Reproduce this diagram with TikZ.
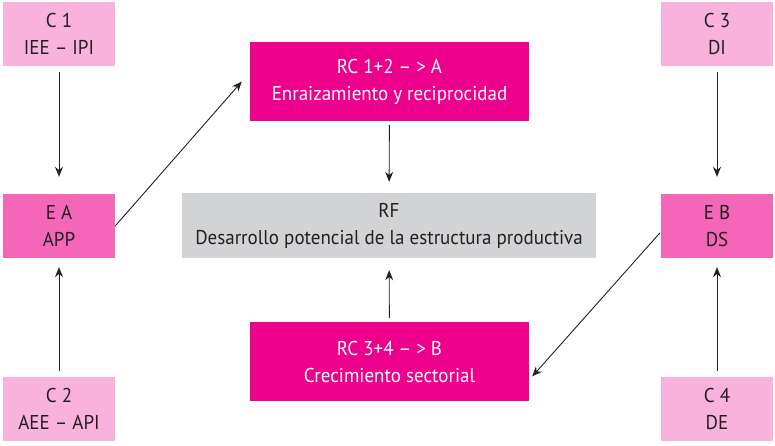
\documentclass[tikz,border=0pt]{standalone}
\usepackage{fontspec}
\setmainfont{PT Sans}[FakeStretch=0.95]
\usetikzlibrary{arrows.meta,calc}
\definecolor{lpink}{HTML}{F8B2DC}
\definecolor{mpink}{HTML}{F366B8}
\definecolor{magen}{HTML}{EC008C}
\definecolor{rfgray}{HTML}{D1D3D4}
\definecolor{ink}{HTML}{231F20}
\begin{document}
\begin{tikzpicture}[x=1pt,y=-1pt,
  box/.style={rectangle,inner sep=0pt,align=center,font=\fontsize{20}{27}\selectfont},
  cbox/.style={box,fill=lpink,text=ink,minimum width=112pt,minimum height=64pt},
  ebox/.style={box,fill=mpink,text=ink,minimum width=112pt,minimum height=64pt},
  rcbox/.style={box,fill=magen,text=white,minimum width=279pt,minimum height=79pt},
  rfbox/.style={box,fill=rfgray,text=ink,minimum width=414pt,minimum height=65pt},
  conn/.style={draw=ink,line width=0.9pt,-{Stealth[length=10pt,width=8pt]}}]
\useasboundingbox (0,0) rectangle (775,445);
\node[cbox] (C1) at (59,34) {C 1\\IEE – IPI};
\node[cbox] (C3) at (717,34) {C 3\\DI};
\node[cbox] (C2) at (59,409) {C 2\\AEE – API};
\node[cbox] (C4) at (717,409) {C 4\\DE};
\node[ebox] (EA) at (59,226) {E A\\APP};
\node[ebox] (EB) at (717,226) {E B\\DS};
\node[rcbox] (RC12) at (389.5,81.5) {RC 1+2 – > A\\Enraizamiento y reciprocidad};
\node[rcbox] (RC34) at (389.5,361.5) {RC 3+4 – > B\\Crecimiento sectorial};
\node[rfbox] (RF) at (389,225.5) {RF\\Desarrollo potencial de la estructura productiva};
\draw[conn,shorten <=6pt,shorten >=17pt] (C1) -- (EA);
\draw[conn,shorten <=6pt,shorten >=17pt] (C3) -- (EB);
\draw[conn,shorten <=6pt,shorten >=9pt] (C2) -- (EA);
\draw[conn,shorten <=6pt,shorten >=9pt] (C4) -- (EB);
\draw[conn,shorten <=4pt,shorten >=11pt] (RC12) -- (RF);
\draw[conn,shorten <=4pt,shorten >=12pt] (RC34) -- (RF);
\draw[conn] (EA.east) -- ($(RC12.west)+(-8,0)$);
\draw[conn] ($(EB.west)+(-1,7)$) -- ($(RC34.east)+(3,15)$);
\end{tikzpicture}
\end{document}
